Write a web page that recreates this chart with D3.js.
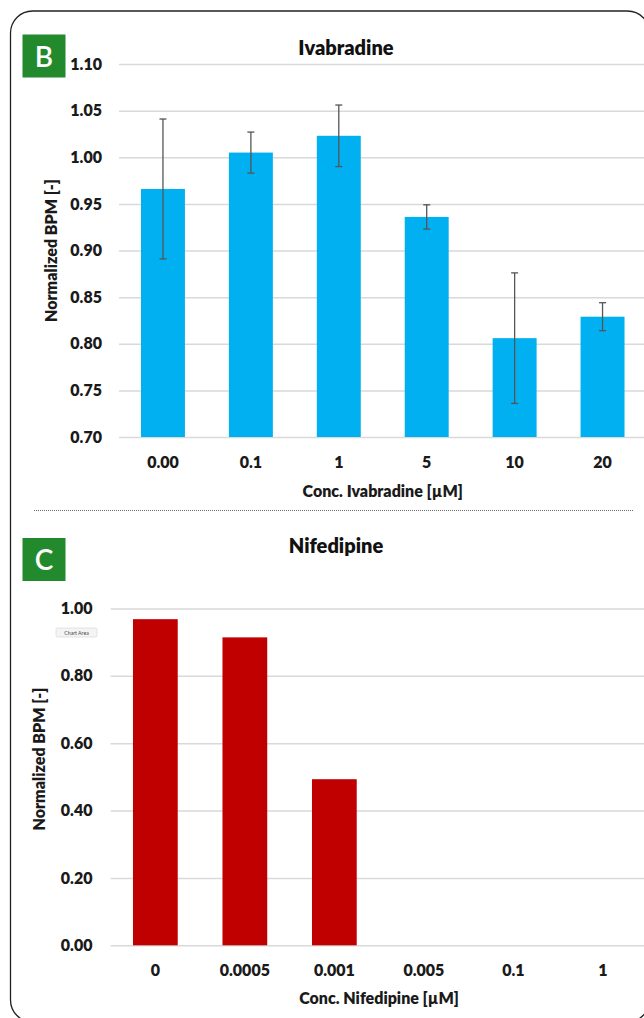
<!DOCTYPE html>
<html>
<head>
<meta charset="utf-8">
<script src="https://cdn.jsdelivr.net/npm/d3@7"></script>
<style>
  html, body { margin: 0; padding: 0; background: #fff; }
  svg { display: block; }
  text { font-family: Lato, "Open Sans", sans-serif; }
</style>
</head>
<body>
<svg id="fig" width="644" height="1018"></svg>
<script>
// Panel B: Ivabradine dose response
const ivaCategories = ["0.00", "0.1", "1", "5", "10", "20"];
const ivaMeans = [0.966, 1.005, 1.023, 0.936, 0.806, 0.829];
const ivaErrors = [0.075, 0.022, 0.033, 0.013, 0.070, 0.015];
const ivaTicks = [0.70, 0.75, 0.80, 0.85, 0.90, 0.95, 1.00, 1.05, 1.10];

// Panel C: Nifedipine dose response
const nifCategories = ["0", "0.0005", "0.001", "0.005", "0.1", "1"];
const nifMeans = [0.968, 0.914, 0.493, 0, 0, 0];
const nifTicks = [0.00, 0.20, 0.40, 0.60, 0.80, 1.00];

const svg = d3.select("#fig");

// outer rounded frame
svg.append("rect")
  .attr("x", 10.5).attr("y", 11)
  .attr("width", 639).attr("height", 1011)
  .attr("rx", 22).attr("ry", 22)
  .attr("fill", "none").attr("stroke", "#222").attr("stroke-width", 1.3);

// dotted divider between panels
svg.append("line")
  .attr("x1", 34).attr("x2", 634).attr("y1", 510.5).attr("y2", 510.5)
  .attr("stroke", "#6a6a6a").attr("stroke-width", 1.2)
  .attr("stroke-dasharray", "1,1");

const labelFont = { size: 16, weight: 800, fill: "#1a1a1a" };

function panel(cfg) {
  const g = svg.append("g");

  const x = d3.scaleBand()
    .domain(cfg.categories)
    .range(cfg.xRange)
    .paddingInner(0.5)
    .paddingOuter(0.25);

  const y = d3.scaleLinear().domain(cfg.yDomain).range(cfg.yRange);

  // gridlines
  g.append("g")
    .attr("transform", `translate(${cfg.xRange[0]},0)`)
    .call(d3.axisLeft(y).tickValues(cfg.ticks)
      .tickSize(-(cfg.xRange[1] - cfg.xRange[0]) - 10).tickFormat(""))
    .call(a => a.select(".domain").remove())
    .call(a => a.selectAll("line").attr("stroke", "#d9d9d9").attr("stroke-width", 1.5));

  // y tick labels
  g.append("g")
    .attr("transform", `translate(${cfg.labelRight},0)`)
    .call(d3.axisLeft(y).tickValues(cfg.ticks).tickSize(0).tickPadding(0)
      .tickFormat(d3.format(".2f")))
    .call(a => a.select(".domain").remove())
    .call(a => a.selectAll("text")
      .attr("font-family", "Lato, sans-serif")
      .attr("font-size", labelFont.size).attr("font-weight", labelFont.weight)
      .attr("fill", labelFont.fill));

  // x tick labels
  g.append("g")
    .attr("transform", `translate(0,${cfg.xLabelY})`)
    .call(d3.axisBottom(x).tickSize(0).tickPadding(0))
    .call(a => a.select(".domain").remove())
    .call(a => a.selectAll("text")
      .attr("dy", 0)
      .attr("font-family", "Lato, sans-serif")
      .attr("font-size", labelFont.size).attr("font-weight", labelFont.weight)
      .attr("fill", labelFont.fill));

  // bars
  const base = y(cfg.yDomain[0]);
  g.selectAll("rect.bar")
    .data(cfg.values.map((v, i) => ({ c: cfg.categories[i], v })))
    .join("rect")
    .attr("class", "bar")
    .attr("x", d => x(d.c))
    .attr("width", x.bandwidth())
    .attr("y", d => y(Math.max(d.v, cfg.yDomain[0])))
    .attr("height", d => base - y(Math.max(d.v, cfg.yDomain[0])))
    .attr("fill", cfg.color);

  // error bars
  if (cfg.errors) {
    const eb = g.selectAll("g.err")
      .data(cfg.values.map((v, i) => ({ c: cfg.categories[i], v, e: cfg.errors[i] })))
      .join("g").attr("class", "err")
      .attr("stroke", "#555").attr("stroke-width", 1.3);
    const cx = d => x(d.c) + x.bandwidth() / 2;
    eb.append("line")
      .attr("x1", cx).attr("x2", cx)
      .attr("y1", d => y(d.v + d.e)).attr("y2", d => y(d.v - d.e));
    eb.append("line")
      .attr("x1", d => cx(d) - 3.5).attr("x2", d => cx(d) + 3.5)
      .attr("y1", d => y(d.v + d.e)).attr("y2", d => y(d.v + d.e));
    eb.append("line")
      .attr("x1", d => cx(d) - 3.5).attr("x2", d => cx(d) + 3.5)
      .attr("y1", d => y(d.v - d.e)).attr("y2", d => y(d.v - d.e));
  }

  // chart title
  g.append("text")
    .attr("x", cfg.titleX).attr("y", cfg.titleY)
    .attr("text-anchor", "middle")
    .attr("font-size", 20).attr("font-weight", 800).attr("fill", "#111")
    .text(cfg.title);

  // x axis title
  g.append("text")
    .attr("x", (cfg.xRange[0] + cfg.xRange[1]) / 2).attr("y", cfg.xTitleY)
    .attr("text-anchor", "middle")
    .attr("font-size", 16).attr("font-weight", 800).attr("fill", "#1a1a1a")
    .text(cfg.xTitle);

  // y axis title
  g.append("text")
    .attr("transform", `translate(${cfg.yTitleX},${cfg.yTitleY}) rotate(-90)`)
    .attr("text-anchor", "middle").attr("dy", "0.35em")
    .attr("font-size", 16).attr("font-weight", 800).attr("fill", "#1a1a1a")
    .text("Normalized BPM [-]");

  // panel letter badge
  g.append("rect")
    .attr("x", cfg.badge[0]).attr("y", cfg.badge[1])
    .attr("width", 43).attr("height", 43)
    .attr("fill", "#228a2c");
  g.append("text")
    .attr("x", cfg.badge[0] + 21.5).attr("y", cfg.badge[1] + 32)
    .attr("text-anchor", "middle")
    .attr("font-family", "'Open Sans', sans-serif")
    .attr("font-size", 28).attr("font-weight", 600).attr("fill", "#fff")
    .text(cfg.letter);

  return { x, y };
}

panel({
  letter: "B", badge: [22.5, 34.5],
  title: "Ivabradine", titleX: 346, titleY: 55,
  categories: ivaCategories, values: ivaMeans, errors: ivaErrors, ticks: ivaTicks,
  xRange: [119, 646.5], yDomain: [0.70, 1.10], yRange: [437, 64],
  labelRight: 102, xLabelY: 468, xTitle: "Conc. Ivabradine [µM]", xTitleY: 497,
  yTitleX: 51, yTitleY: 250.5, color: "#00b0f0"
});

panel({
  letter: "C", badge: [22.5, 538],
  title: "Nifedipine", titleX: 336, titleY: 553,
  categories: nifCategories, values: nifMeans, errors: null, ticks: nifTicks,
  xRange: [110.6, 647.6], yDomain: [0, 1], yRange: [945.3, 608.4],
  labelRight: 92.5, xLabelY: 976, xTitle: "Conc. Nifedipine [µM]", xTitleY: 1004,
  yTitleX: 39, yTitleY: 759, color: "#c00000"
});

// small hover tag left over on the lower chart
const tag = svg.append("g").attr("transform", "translate(56,628)");
tag.append("rect")
  .attr("width", 41).attr("height", 9).attr("rx", 1.5)
  .attr("fill", "#f4f4f4").attr("stroke", "#d4d4d4").attr("stroke-width", 0.6);
tag.append("text")
  .attr("x", 20.5).attr("y", 6.6).attr("text-anchor", "middle")
  .attr("font-family", "'Open Sans', sans-serif")
  .attr("font-size", 5.2).attr("fill", "#444")
  .text("Chart Area");
</script>
</body>
</html>
